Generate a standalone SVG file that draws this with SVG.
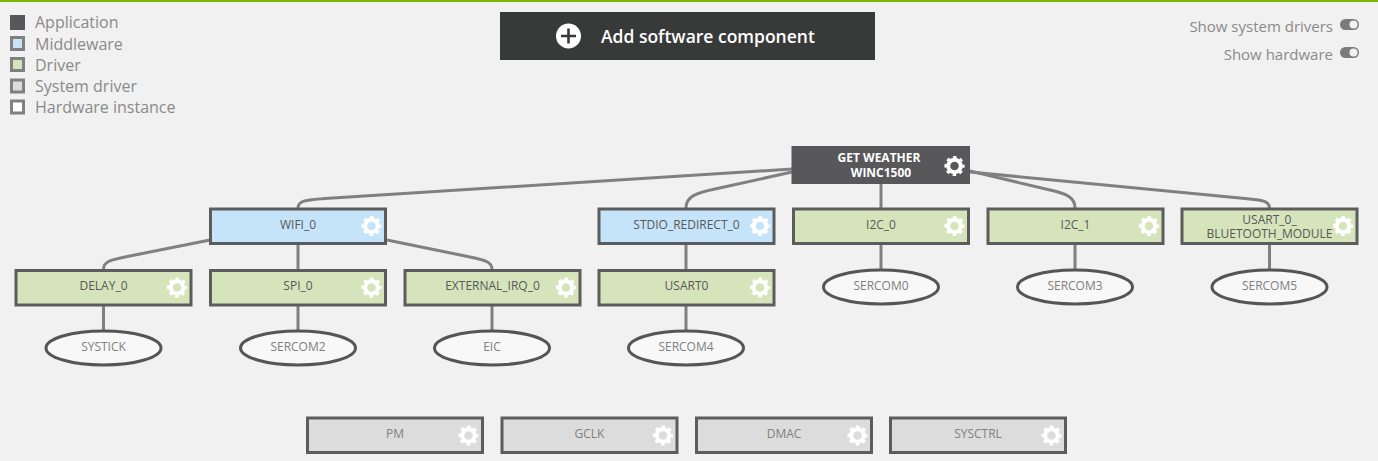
<svg xmlns="http://www.w3.org/2000/svg" xmlns:xlink="http://www.w3.org/1999/xlink" width="1378" height="461" viewBox="0 0 1378 461">
<style>
text{font-family:"Open Sans","Noto Sans","Liberation Sans",sans-serif}
.leg{font-size:16px;fill:#8a8a8a}
.sw{stroke:#808080;stroke-width:3}
.tog{font-size:15px;fill:#8a8a8a;text-anchor:end}
.box{stroke:#5c5c5c;stroke-width:3}
.mw{fill:#c5e4f9}.dr{fill:#d6e4bb}.sy{fill:#dcdcdc}
.t{font-size:12px;fill:#58585a;text-anchor:middle}
.ts{font-size:12px;fill:#808080;text-anchor:middle}
.hw{fill:#f8f8f8;stroke:#555;stroke-width:3}
.c{fill:none;stroke:#808080;stroke-width:3}
.pill{fill:#7b7b7b}
.knob{fill:#f1f1f1}
</style>
<defs>
<g id="gear">
<circle r="6.3" fill="none" stroke="#fff" stroke-width="4"/>
<circle r="8.6" fill="none" stroke="#fff" stroke-width="3" stroke-dasharray="3.4 3.355" stroke-dashoffset="1.7"/>
</g>
</defs>
<rect width="1378" height="461" fill="#f1f1f1"/>
<rect width="1378" height="2" fill="#7ab800"/>
<g id="legend">
<rect x="10" y="15" width="15" height="15" fill="#58585a"/><text class="leg" x="35" y="28">Application</text>
<rect class="sw mw" x="11.500" y="37.500" width="12" height="12"/><text class="leg" x="35" y="49.500">Middleware</text>
<rect class="sw dr" x="11.500" y="58.500" width="12" height="12"/><text class="leg" x="35" y="70.500">Driver</text>
<rect class="sw sy" x="11.500" y="80" width="12" height="12"/><text class="leg" x="35" y="91.500">System driver</text>
<rect class="sw" fill="#fff" x="11.500" y="101" width="12" height="12"/><text class="leg" x="35" y="112.500">Hardware instance</text>
</g>
<g id="add-button">
<rect x="500" y="12" width="375" height="48" fill="#383a39"/>
<circle cx="568.500" cy="36" r="12.500" fill="#fff"/>
<path d="M568.500 28.500V43.500M561 36H576" stroke="#383a39" stroke-width="2.600" fill="none"/>
<text x="601" y="42.500" font-size="17.500" font-weight="600" fill="#fff">Add software component</text>
</g>
<g id="toggles">
<text class="tog" x="1333" y="32">Show system drivers</text>
<rect class="pill" x="1340" y="19" width="19" height="11" rx="5.500"/><circle class="knob" cx="1353.500" cy="24.500" r="4"/>
<text class="tog" x="1333" y="60">Show hardware</text>
<rect class="pill" x="1340" y="47" width="19" height="11" rx="5.500"/><circle class="knob" cx="1353.500" cy="52.500" r="4"/>
</g>
<g id="connectors">
<path class="c" d="M792 169L325 198.500C305 200 298 201 298 208"/>
<path class="c" d="M792 172L715 189C695 193 686 197 686 208"/>
<path class="c" d="M881 184V208"/>
<path class="c" d="M970 171L1050 190C1068 194 1075 198 1075 208"/>
<path class="c" d="M970 172L1245 198.500C1262 200 1269.500 201 1269.500 208"/>
<path class="c" d="M210 240L125 257C110 260 103.500 262 103.500 269"/>
<path class="c" d="M298 244V269"/>
<path class="c" d="M387 240L470 257C485 260 492 262 492 269"/>
<path class="c" d="M686 244V269"/>
<path class="c" d="M103.500 306V330"/>
<path class="c" d="M298 306V330"/>
<path class="c" d="M492 306V330"/>
<path class="c" d="M686 306V330"/>
<path class="c" d="M881 245V269"/>
<path class="c" d="M1075 245V269"/>
<path class="c" d="M1269.500 245V269"/>
</g>
<g id="get-weather">
<rect x="791.500" y="146" width="178.500" height="38" fill="#58585a"/>
<text x="879" y="162" font-size="12" font-weight="700" fill="#fff" text-anchor="middle">GET WEATHER</text>
<text x="881" y="177" font-size="12" font-weight="700" fill="#fff" text-anchor="middle">WINC1500</text>
<use href="#gear" x="954.500" y="166"/>
</g>
<g id="wifi-0"><rect class="box mw" x="210.500" y="209" width="175" height="34.500"/><text class="t" x="298" y="229">WIFI_0</text><use href="#gear" x="371.500" y="226"/></g>
<g id="stdio-redirect-0"><rect class="box mw" x="599" y="209" width="175" height="34.500"/><text class="t" x="686.500" y="229">STDIO_REDIRECT_0</text><use href="#gear" x="760" y="226"/></g>
<g id="i2c-0"><rect class="box dr" x="793.500" y="209" width="175" height="34.500"/><text class="t" x="881" y="229">I2C_0</text><use href="#gear" x="954.500" y="226"/></g>
<g id="i2c-1"><rect class="box dr" x="988" y="209" width="175" height="34.500"/><text class="t" x="1075.500" y="229">I2C_1</text><use href="#gear" x="1149" y="226"/></g>
<g id="usart-0-bluetooth"><rect class="box dr" x="1182" y="209" width="175" height="34.500"/><text class="t" x="1269.500" y="224">USART_0_</text><text class="t" x="1269.500" y="238">BLUETOOTH_MODULE</text><use href="#gear" x="1343" y="226"/></g>
<g id="delay-0"><rect class="box dr" x="16" y="270.500" width="175" height="34.500"/><text class="t" x="103.500" y="290">DELAY_0</text><use href="#gear" x="177" y="287.500"/></g>
<g id="spi-0"><rect class="box dr" x="210.500" y="270.500" width="175" height="34.500"/><text class="t" x="298" y="290">SPI_0</text><use href="#gear" x="371.500" y="287.500"/></g>
<g id="external-irq-0"><rect class="box dr" x="405" y="270.500" width="175" height="34.500"/><text class="t" x="492.500" y="290">EXTERNAL_IRQ_0</text><use href="#gear" x="566" y="287.500"/></g>
<g id="usart0"><rect class="box dr" x="599" y="270.500" width="175" height="34.500"/><text class="t" x="686.500" y="290">USART0</text><use href="#gear" x="760" y="287.500"/></g>
<g id="systick"><ellipse class="hw" cx="103.500" cy="348" rx="57.500" ry="17"/><text class="ts" x="103.500" y="351">SYSTICK</text></g>
<g id="sercom2"><ellipse class="hw" cx="298" cy="348" rx="57.500" ry="17"/><text class="ts" x="298" y="351">SERCOM2</text></g>
<g id="eic"><ellipse class="hw" cx="492" cy="348" rx="57.500" ry="17"/><text class="ts" x="492" y="351">EIC</text></g>
<g id="sercom4"><ellipse class="hw" cx="686" cy="348" rx="57.500" ry="17"/><text class="ts" x="686" y="351">SERCOM4</text></g>
<g id="sercom0"><ellipse class="hw" cx="881" cy="287" rx="57.500" ry="17"/><text class="ts" x="881" y="290">SERCOM0</text></g>
<g id="sercom3"><ellipse class="hw" cx="1075" cy="287" rx="57.500" ry="17"/><text class="ts" x="1075" y="290">SERCOM3</text></g>
<g id="sercom5"><ellipse class="hw" cx="1269.500" cy="287" rx="57.500" ry="17"/><text class="ts" x="1269.500" y="290">SERCOM5</text></g>
<g id="pm"><rect class="box sy" x="307.500" y="418" width="175" height="34.500"/><text class="ts" x="395" y="438">PM</text><use href="#gear" x="468.500" y="435.500"/></g>
<g id="gclk"><rect class="box sy" x="502" y="418" width="175" height="34.500"/><text class="ts" x="589.500" y="438">GCLK</text><use href="#gear" x="663" y="435.500"/></g>
<g id="dmac"><rect class="box sy" x="696.500" y="418" width="175" height="34.500"/><text class="ts" x="784" y="438">DMAC</text><use href="#gear" x="857.500" y="435.500"/></g>
<g id="sysctrl"><rect class="box sy" x="890.500" y="418" width="175" height="34.500"/><text class="ts" x="978" y="438">SYSCTRL</text><use href="#gear" x="1051.500" y="435.500"/></g>
</svg>
